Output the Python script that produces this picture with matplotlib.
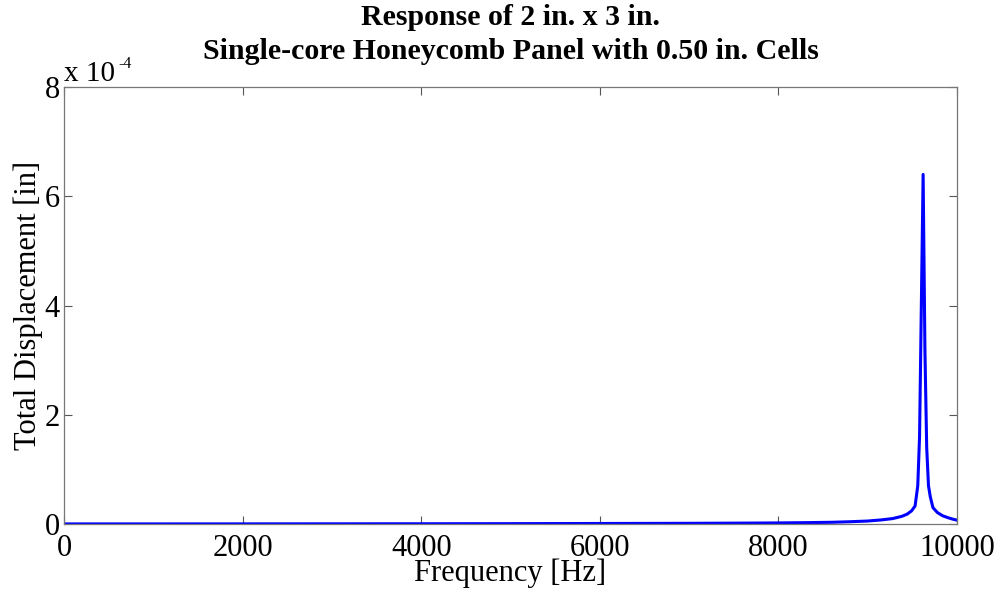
import numpy as np
import matplotlib
matplotlib.use('Agg')
import matplotlib.pyplot as plt
from matplotlib.ticker import FixedLocator, FuncFormatter

# Frequency sweep [Hz] and total displacement [in]
freq = [0, 1000, 2000, 3000, 4000, 5000, 6000, 7000, 7500, 8000, 8300, 8600,
        8800, 9000, 9150, 9280, 9380, 9440, 9490, 9530, 9560, 9580, 9600,
        9620, 9640, 9660, 9680, 9700, 9730, 9780, 9840, 9900, 9950, 10000]
disp = [2.0e-7, 2.5e-7, 3.0e-7, 4.0e-7, 5.0e-7, 7.0e-7, 1.0e-6, 1.3e-6,
        1.6e-6, 2.0e-6, 2.5e-6, 3.2e-6, 4.2e-6, 5.5e-6, 7.5e-6, 1.0e-5,
        1.4e-5, 1.8e-5, 2.4e-5, 3.3e-5, 7.0e-5, 1.6e-4, 4.0e-4, 6.4e-4,
        3.2e-4, 1.4e-4, 7.0e-5, 5.0e-5, 3.0e-5, 2.1e-5, 1.5e-5, 1.15e-5,
        9.0e-6, 7.0e-6]

xticks = [0, 2000, 4000, 6000, 8000, 10000]
yticks = [0, 2e-4, 4e-4, 6e-4, 8e-4]

plt.rcParams['font.family'] = ['Liberation Serif', 'DejaVu Serif']

fig = plt.figure(figsize=(10.03, 5.94), dpi=100)
ax = fig.add_axes([0.0638, 0.1178, 0.8904, 0.7357])

ax.plot(freq, disp, color='#0000ff', linewidth=2.2)

ax.set_xlim(0, 10000)
ax.set_ylim(0, 8e-4)
ax.xaxis.set_major_locator(FixedLocator(xticks))
ax.yaxis.set_major_locator(FixedLocator(yticks))
ax.xaxis.set_major_formatter(FuncFormatter(lambda v, p: '%d' % v))
ax.yaxis.set_major_formatter(FuncFormatter(lambda v, p: '%g' % round(v * 1e4, 6)))

ax.tick_params(direction='in', length=6, width=0.8, color='#555555',
               labelsize=22, top=True, right=True, pad=3)
ax.tick_params(axis='x', pad=7)
for s in ax.spines.values():
    s.set_color('#777777')
    s.set_linewidth(0.9)

ax.set_xlabel('Frequency [Hz]', fontsize=22, labelpad=-3)
ax.set_ylabel('Total Displacement [in]', fontsize=22, labelpad=1)
ax.set_title('Response of 2 in. x 3 in.\nSingle-core Honeycomb Panel with 0.50 in. Cells',
             fontsize=21.5, fontweight='bold', linespacing=1.35, pad=20)

# MATLAB style exponent label
ax.text(0.0, 1.0, 'x 10', transform=ax.transAxes,
        fontsize=21, ha='left', va='bottom')
ax.text(0.0605, 1.0435, '-4', transform=ax.transAxes,
        fontsize=11.5, ha='left', va='baseline')

fig.savefig('out.png', dpi=100)
